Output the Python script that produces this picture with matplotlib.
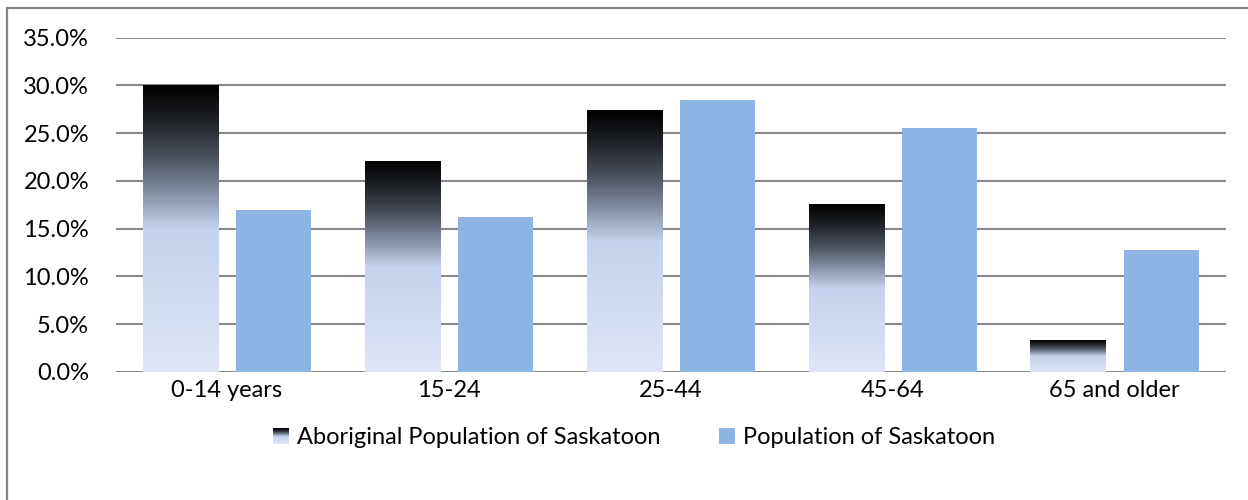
import numpy as np
import matplotlib
matplotlib.use("Agg")
import matplotlib.pyplot as plt
from matplotlib.colors import LinearSegmentedColormap
from matplotlib.patches import Rectangle
from matplotlib.legend_handler import HandlerBase
from matplotlib.ticker import FuncFormatter

categories = ["0-14 years", "15-24", "25-44", "45-64", "65 and older"]
aboriginal = [30.0, 22.0, 27.4, 17.5, 3.3]
population = [17.0, 16.2, 28.5, 25.5, 12.8]
series_names = ["Aboriginal Population of Saskatoon", "Population of Saskatoon"]
yticks = [0, 5, 10, 15, 20, 25, 30, 35]

plt.rcParams["font.family"] = ["Lato", "DejaVu Sans"]
FS = 17
W, H = 1248, 500
fig = plt.figure(figsize=(W / 100, H / 100), dpi=100)

# outer chart frame (only top/left visible in crop)
fig.patches.append(Rectangle((7 / W, -0.1), 1.2, 1 - 7.5 / H + 0.1, transform=fig.transFigure,
                             fill=False, edgecolor="#878787", linewidth=1.6, zorder=0))

ax = fig.add_axes([116 / W, 128 / H, (1225.5 - 116) / W, (372 - 37.7) / H])

grad_stops = [(0.0, "#dfe5f4"), (0.5, "#c4d2ed"), (0.59, "#96a2b8"), (0.67, "#6f7889"),
              (0.75, "#4b525d"), (0.88, "#1e2126"), (1.0, "#000000")]
cmap = LinearSegmentedColormap.from_list("abo", grad_stops)
pop_color = "#8eb4e3"

x = np.arange(len(categories))
bw = 0.338
off = 0.21

bars_a = ax.bar(x - off, aboriginal, width=bw, color="none", edgecolor="none", zorder=3)
ax.bar(x + off, population, width=bw, color=pop_color, edgecolor="none", zorder=3)

grad = np.linspace(0, 1, 256).reshape(-1, 1)
for r in bars_a:
    x0, y0 = r.get_x(), r.get_y()
    ax.imshow(grad, cmap=cmap, origin="lower", aspect="auto",
              extent=(x0, x0 + r.get_width(), y0, y0 + r.get_height()), zorder=3,
              interpolation="bilinear")

ax.set_xlim(-0.5, len(categories) - 0.5)
ax.set_ylim(0, 35)
ax.set_yticks(yticks)
ax.yaxis.set_major_formatter(FuncFormatter(lambda v, p: f"{v:.1f}%"))
ax.set_xticks(x)
ax.set_xticklabels(categories)
ax.tick_params(axis="both", length=0, labelsize=FS, colors="#000000")
ax.tick_params(axis="y", pad=19.4)
ax.tick_params(axis="x", pad=6)
ax.grid(axis="y", color="#888888", linewidth=1.5, zorder=1)
ax.set_axisbelow(True)
for s in ax.spines.values():
    s.set_visible(False)


class GradHandler(HandlerBase):
    def create_artists(self, legend, orig_handle, xdescent, ydescent, width, height, fontsize, trans):
        arts = []
        n = 24
        for i in range(n):
            c = cmap((i + 0.5) / n)
            arts.append(Rectangle((-xdescent, -ydescent + height * i / n), width, height / n + 0.05,
                                  facecolor=c, edgecolor="none", transform=trans))
        return arts


h1 = Rectangle((0, 0), 1, 1)
h2 = Rectangle((0, 0), 1, 1, facecolor=pop_color, edgecolor="none")
fig.legend([h1, h2], series_names, handler_map={h1: GradHandler()},
           loc="center", bbox_to_anchor=((265 + 1003) / 2 / W, 1 - 438 / H),
           ncol=2, frameon=False, fontsize=FS, handlelength=0.68, handleheight=0.64,
           handletextpad=0.34, columnspacing=2.5)

fig.savefig("out.png", dpi=100)
